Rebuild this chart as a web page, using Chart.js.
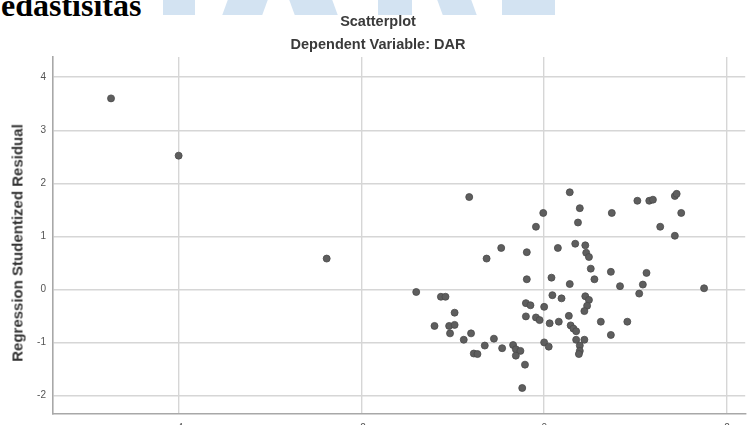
<!DOCTYPE html>
<html>
<head>
<meta charset="utf-8">
<script src="https://cdn.jsdelivr.net/npm/chart.js@4.4.1/dist/chart.umd.min.js"></script>
<style>
  html, body { margin: 0; padding: 0; background: #fff; overflow: hidden; }
  #wrap { position: relative; width: 750px; height: 425px; overflow: hidden; background: #fff; }
  #cv { position: absolute; left: 0; top: 0; }
  .wm { position: absolute; background: #d3e3f2; top: 0; height: 15px; }
  .head { position: absolute; left: 1px; top: -13px; font-family: "Liberation Serif", "Times New Roman", serif; font-weight: bold; font-size: 32px; color: #000; white-space: nowrap; }
  .ttl { position: absolute; left: 0; width: 756px; text-align: center; font-family: "Liberation Sans", Arial, sans-serif; font-weight: bold; font-size: 14.5px; color: #3a3a3a; white-space: nowrap; }
  .ytl { position: absolute; left: 17px; top: 243px; transform: translate(-50%, -50%) rotate(-90deg); font-family: "Liberation Sans", Arial, sans-serif; font-weight: bold; font-size: 15px; color: #333; white-space: nowrap; }
</style>
</head>
<body>
<div id="wrap">
  <div class="wm" style="left:163px;width:32px;"></div>
  <div class="wm" style="left:225px;width:40px;transform:skewX(-20deg);"></div>
  <div class="wm" style="left:292px;width:43px;transform:skewX(20deg);"></div>
  <div class="wm" style="left:378px;width:34px;"></div>
  <div class="wm" style="left:440px;width:34px;transform:skewX(20deg);"></div>
  <div class="wm" style="left:502px;width:53px;"></div>
  <div class="head">edastisitas</div>
  <canvas id="cv" width="750" height="440"></canvas>
  <div class="ttl" style="top:13px;">Scatterplot</div>
  <div class="ttl" style="top:36px;">Dependent Variable: DAR</div>
  <div class="ytl">Regression Studentized Residual</div>
</div>
<script>
// Regression standardized predicted values (x) and studentized residuals (y)
const predictedValues = [
  -4.74, -4.00, -2.38,
  -0.82, 0.28, 0.39, -0.01, 0.37, -0.09, 0.74, 1.02, 1.15, 1.19, 1.43, 1.45, 1.50, 1.27, 1.43,
  -0.47, -0.63, -0.19, 0.15, 0.34, 0.45, 0.46, 0.49, 0.51, 0.55, 0.73, 1.12, 1.08, 1.04, 0.83, 1.75,
  -0.19, 0.08, 0.28, 0.09, 0.19,
  -1.40, -1.13, -1.08, -0.98, -1.20, -1.04, -0.98, -1.03, -0.80, -0.88, -0.77, -0.73, -0.65, -0.55, -0.46,
  -0.34, -0.31, -0.26, -0.31, -0.21, -0.24,
  -0.20, -0.15, 0.00, -0.20, -0.09, -0.05, 0.06, 0.16, 0.27, 0.29, 0.32, 0.35,
  0.00, 0.05, 0.35, 0.44, 0.39, 0.39, 0.38,
  0.45, 0.49, 0.47, 0.44, 0.62, 0.91, 0.73
];
const residualValues = [
  3.60, 2.52, 0.58,
  1.74, 1.83, 1.53, 1.44, 1.26, 1.18, 1.44, 1.67, 1.67, 1.69, 1.76, 1.80, 1.44, 1.18, 1.01,
  0.78, 0.58, 0.70, 0.78, 0.86, 0.83, 0.69, 0.61, 0.39, 0.19, 0.33, 0.31, 0.09, -0.08, 0.06, 0.02,
  0.19, 0.22, 0.10, -0.11, -0.17,
  -0.05, -0.14, -0.14, -0.44, -0.69, -0.69, -0.67, -0.83, -0.83, -0.95, -1.21, -1.22, -1.06, -0.93, -1.11,
  -1.05, -1.13, -1.16, -1.25, -1.42, -1.86,
  -0.26, -0.30, -0.33, -0.51, -0.53, -0.58, -0.64, -0.61, -0.50, -0.68, -0.74, -0.79,
  -1.00, -1.08, -0.95, -0.95, -1.06, -1.16, -1.22,
  -0.13, -0.20, -0.31, -0.41, -0.61, -0.61, -0.86
];
const xTickValues = [-4, -2, 0, 2];
const yTickValues = [-2, -1, 0, 1, 2, 3, 4];
const xRange = [-5.375, 2.2];
const yRange = [-2.35, 4.38];

const points = predictedValues.map((x, i) => ({ x: x, y: residualValues[i] }));

new Chart(document.getElementById('cv'), {
  type: 'scatter',
  data: {
    datasets: [{
      data: points,
      pointRadius: 3.5,
      pointBackgroundColor: '#5e5e5e',
      pointBorderColor: '#4a4a4a',
      pointBorderWidth: 0.8
    }]
  },
  options: {
    responsive: false,
    animation: false,
    devicePixelRatio: 1,
    layout: { padding: { top: 57, left: 0, right: 0, bottom: 0 } },
    plugins: { legend: { display: false }, tooltip: { enabled: false }, title: { display: false } },
    scales: {
      x: {
        type: 'linear',
        min: xRange[0], max: xRange[1],
        afterBuildTicks: s => { s.ticks = xTickValues.map(v => ({ value: v })); },
        afterFit: s => { s.height = 26; },
        grid: { color: '#d6d6d6', lineWidth: 1.4, drawTicks: false },
        border: { display: true, color: '#a8a8a8', width: 1.6 },
        ticks: { padding: 8, color: '#555', font: { family: 'Liberation Sans', size: 10 } }
      },
      y: {
        type: 'linear',
        min: yRange[0], max: yRange[1],
        afterBuildTicks: s => { s.ticks = yTickValues.map(v => ({ value: v })); },
        afterFit: s => { s.width = 53; },
        grid: { color: '#d6d6d6', lineWidth: 1.4, drawTicks: false },
        border: { display: true, color: '#a8a8a8', width: 1.6 },
        ticks: { padding: 7, color: '#555', font: { family: 'Liberation Sans', size: 10 } }
      }
    }
  }
});
</script>
</body>
</html>
